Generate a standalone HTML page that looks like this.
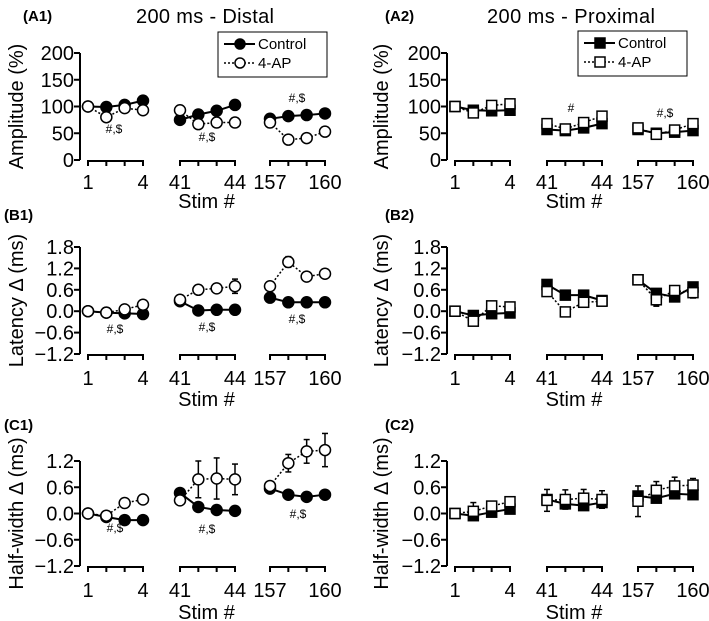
<!DOCTYPE html>
<html><head><meta charset="utf-8"><style>
html,body{margin:0;padding:0;background:#fff;}
svg{display:block;font-family:"Liberation Sans",Arial,sans-serif;}
</style></head><body>
<svg id="fig" width="709" height="621" viewBox="0 0 709 621" xmlns="http://www.w3.org/2000/svg">
<text x="23" y="21" font-size="15" font-weight="bold">(A1)</text>
<text x="205" y="23" font-size="20" text-anchor="middle" textLength="138">200 ms - Distal</text>
<text x="385" y="21" font-size="15" font-weight="bold">(A2)</text>
<text x="571" y="23" font-size="20" text-anchor="middle" textLength="168">200 ms - Proximal</text>
<text x="4" y="220" font-size="15" font-weight="bold">(B1)</text>
<text x="385" y="220" font-size="15" font-weight="bold">(B2)</text>
<text x="4" y="430" font-size="15" font-weight="bold">(C1)</text>
<text x="385" y="430" font-size="15" font-weight="bold">(C2)</text>
</svg>
<script>
// ---- data ----
const stimLabels = [["1","4"],["41","44"],["157","160"]];
const ampTicks = [0,50,100,150,200];
const msTicks = [-1.2,-0.6,0.0,0.6,1.2,1.8];
const hwTicks = [-1.2,-0.6,0.0,0.6,1.2];

const a1Control = [100,99,103,111, 75,85,92,103, 77,82,84,87];
const a1AP      = [100,80,97,93, 93,67,70,70, 70,38,41,53];
const a1APErr   = [0,4,4,4, 9,4,4,4, 9,3,4,8];
const b1Control = [0,-0.04,-0.06,-0.08, 0.28,0.02,0.04,0.04, 0.38,0.25,0.25,0.25];
const b1AP      = [0,-0.04,0.05,0.18, 0.32,0.6,0.64,0.7, 0.7,1.38,0.97,1.05];
const b1APErr   = [0,0.04,0.05,0.05, 0.06,0.08,0.1,0.2, 0.06,0.15,0.08,0.06];
const c1Control = [0,-0.08,-0.15,-0.15, 0.47,0.15,0.08,0.06, 0.57,0.43,0.38,0.43];
const c1AP      = [0,-0.05,0.24,0.32, 0.3,0.78,0.8,0.78, 0.63,1.15,1.42,1.45];
const c1APErr   = [0,0.04,0.05,0.05, 0.05,0.42,0.47,0.35, 0.05,0.2,0.27,0.38];

const a2Control = [100,93,92,93, 57,55,60,68, 57,50,52,55];
const a2AP      = [100,88,102,105, 68,58,70,82, 60,48,56,68];
const a2APErr   = [0,3,5,5, 6,5,5,6, 5,4,5,6];
const b2Control = [0,-0.12,-0.07,-0.05, 0.75,0.45,0.45,0.3, 0.88,0.5,0.4,0.68];
const b2AP      = [0,-0.28,0.15,0.12, 0.55,-0.02,0.25,0.28, 0.88,0.32,0.58,0.52];
const b2APErr   = [0,0.08,0.1,0.06, 0.08,0.12,0.06,0.05, 0.05,0.18,0.1,0.15];
const c2Control = [0,-0.05,0.03,0.1, 0.32,0.22,0.18,0.25, 0.4,0.35,0.45,0.43];
const c2AP      = [0,0.05,0.17,0.27, 0.3,0.32,0.35,0.32, 0.28,0.53,0.63,0.65];
const c2APErr   = [0,0.2,0.1,0.05, 0.25,0.22,0.2,0.2, 0.35,0.2,0.2,0.15];

const NS="http://www.w3.org/2000/svg";
const svg=document.getElementById('fig');
function mk(tag,attrs,parent){const e=document.createElementNS(NS,tag);for(const k in attrs)e.setAttribute(k,attrs[k]);(parent||svg).appendChild(e);return e;}
function fmt(v,dec){const s=Math.abs(v).toFixed(dec);return v<0?"\u2212"+s:s;}

const cols={left:{ax:80,groups:[[88,143],[180,235],[270,325]],ytx:16},
            right:{ax:447,groups:[[455,510],[547,602],[638,693]],ytx:381}};
const rows={A:{top:53,bot:160,lab:189,stim:208,title:"Amplitude (%)",ticks:ampTicks,dec:0},
            B:{top:247,bot:354,lab:385,stim:406,title:"Latency \u0394 (ms)",ticks:msTicks,dec:1},
            C:{top:461,bot:566,lab:597,stim:619,title:"Half-width \u0394 (ms)",ticks:hwTicks,dec:1}};

function panel(name,col,row,ctrl,ap,apErr,square,annots){
  const c=cols[col], r=rows[row];
  const g=mk('g',{});
  
  
  const tmin=r.ticks[0], tmax=r.ticks[r.ticks.length-1];
  const y=v=>r.bot-(v-tmin)/(tmax-tmin)*(r.bot-r.top);
  const x=i=>{const gr=c.groups[Math.floor(i/4)];return gr[0]+(i%4)*(gr[1]-gr[0])/3;};
  const ya=mk('line',{x1:c.ax,y1:r.top,x2:c.ax,y2:r.bot,stroke:'#000','stroke-width':2},g);
  
  
  r.ticks.forEach(t=>{
    mk('line',{x1:c.ax-6,y1:y(t),x2:c.ax,y2:y(t),stroke:'#000','stroke-width':2},g);
    const tl=mk('text',{x:c.ax-6,y:y(t)+7,'font-size':20,'text-anchor':'end'},g);
    
    
    tl.textContent=fmt(t,r.dec);
  });
  const yt=mk('text',{x:c.ytx,y:(r.top+r.bot)/2,'font-size':20,'text-anchor':'middle',transform:`rotate(-90 ${c.ytx} ${(r.top+r.bot)/2}) translate(0 7)`},g);
  
  
  yt.textContent=r.title;
  c.groups.forEach((gr,gi)=>{
    const b=mk('line',{x1:gr[0]-1,y1:r.bot+1,x2:gr[1]+1,y2:r.bot+1,stroke:'#000','stroke-width':2},g);
    
    
    for(let k=0;k<4;k++){const xx=gr[0]+k*(gr[1]-gr[0])/3;mk('line',{x1:xx,y1:r.bot,x2:xx,y2:r.bot+6,stroke:'#000','stroke-width':2},g);}
    [0,1].forEach(k=>{const tl=mk('text',{x:gr[k],y:r.lab,'font-size':20,'text-anchor':'middle'},g);
      
      
      tl.textContent=stimLabels[gi][k];});
  });
  const st=mk('text',{x:(c.groups[0][0]+c.groups[2][1])/2,y:r.stim,'font-size':20,'text-anchor':'middle'},g);
  
  
  st.textContent="Stim #";
  for(let gi=0;gi<3;gi++){
    let p1=[],p2=[];
    for(let k=0;k<4;k++){const i=gi*4+k;p1.push(x(i)+','+y(ctrl[i]));p2.push(x(i)+','+y(ap[i]));}
    const l1=mk('polyline',{points:p1.join(' '),fill:'none',stroke:'#000','stroke-width':2},g);
    
    
    const l2=mk('polyline',{points:p2.join(' '),fill:'none',stroke:'#000','stroke-width':1.5,'stroke-dasharray':'2,2'},g);
    
    
  }
  const marker=(i,v,fill,nm,err)=>{
    const xx=x(i),yy=y(v);
    if(err){const e1=y(v+err),e2=y(v-err);
      mk('line',{x1:xx,y1:e1,x2:xx,y2:e2,stroke:'#000','stroke-width':1.5},g);
      mk('line',{x1:xx-3,y1:e1,x2:xx+3,y2:e1,stroke:'#000','stroke-width':1.5},g);
      mk('line',{x1:xx-3,y1:e2,x2:xx+3,y2:e2,stroke:'#000','stroke-width':1.5},g);}
    let m;
    if(square) m=mk('rect',{x:xx-5,y:yy-5,width:10,height:10,fill:fill,stroke:'#000','stroke-width':1.5},g);
    else m=mk('circle',{cx:xx,cy:yy,r:5.5,fill:fill,stroke:'#000','stroke-width':1.5},g);
    
    
  };
  for(let i=0;i<12;i++){marker(i,ctrl[i],'#000','control-point',0);}
  for(let i=0;i<12;i++){marker(i,ap[i],'#fff','4ap-point',apErr[i]);}
  annots.forEach(a=>{const t=mk('text',{x:a[0],y:a[1],'font-size':12,'text-anchor':'middle'},g);
    
    
    t.textContent=a[2];});
}
panel('panel-a1','left','A',a1Control,a1AP,a1APErr,false,[[114,133,'#,$'],[207,141,'#,$'],[297,102,'#,$']]);
panel('panel-b1','left','B',b1Control,b1AP,b1APErr,false,[[115,333,'#,$'],[207,331,'#,$'],[297,323,'#,$']]);
panel('panel-c1','left','C',c1Control,c1AP,c1APErr,false,[[115,532,'#,$'],[207,533,'#,$'],[298,518,'#,$']]);
panel('panel-a2','right','A',a2Control,a2AP,a2APErr,true,[[571,112,'#'],[665,117,'#,$']]);
panel('panel-b2','right','B',b2Control,b2AP,b2APErr,true,[]);
panel('panel-c2','right','C',c2Control,c2AP,c2APErr,true,[]);

function legend(x0,y0,square){
  const g=mk('g',{});
  
  
  mk('rect',{x:x0,y:y0,width:109,height:45,fill:'#fff',stroke:'#000','stroke-width':1},g);
  [['Control','#000',false],['4-AP','#fff',true]].forEach((e,k)=>{
    const yy=y0+12+k*19;
    const ent=mk('g',{},g);
    
    
    mk('line',{x1:x0+6,y1:yy,x2:x0+37,y2:yy,stroke:'#000','stroke-width':e[2]?1.5:2,'stroke-dasharray':e[2]?'2,2':'none'},ent);
    if(square) mk('rect',{x:x0+17,y:yy-5,width:10,height:10,fill:e[1],stroke:'#000','stroke-width':1.5},ent);
    else mk('circle',{cx:x0+22,cy:yy,r:5,fill:e[1],stroke:'#000','stroke-width':1.5},ent);
    const t=mk('text',{x:x0+40,y:yy+5,'font-size':15},ent);
    t.textContent=e[0];
  });
}
legend(218,32,false);
legend(578,31,true);
</script>
</body></html>
